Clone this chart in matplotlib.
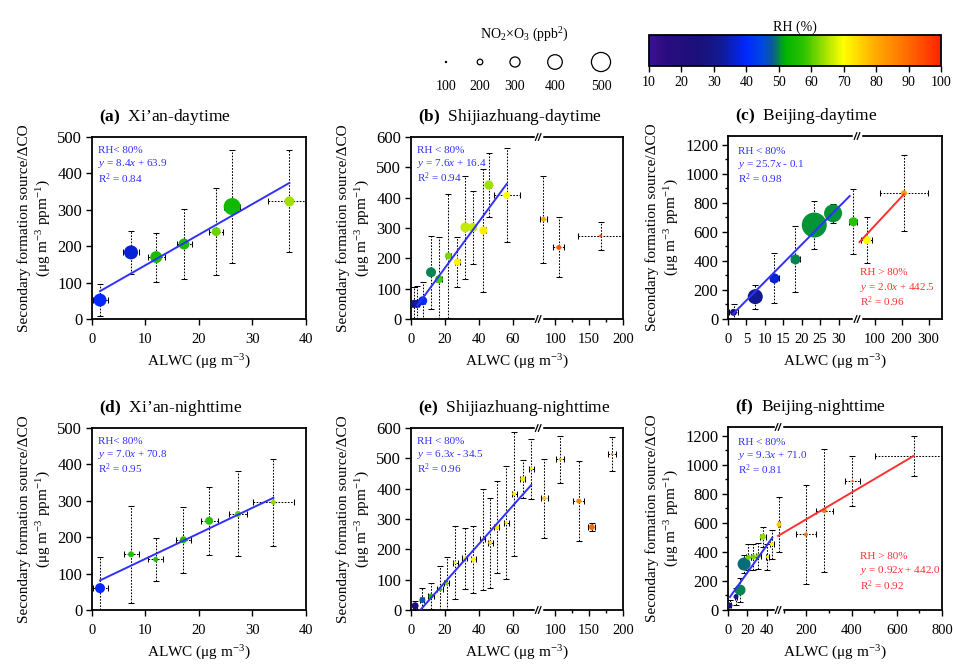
import numpy as np
import matplotlib
matplotlib.use("Agg")
import matplotlib.pyplot as plt
from matplotlib.colors import LinearSegmentedColormap, Normalize
from matplotlib.cm import ScalarMappable
from matplotlib.ticker import FixedLocator

plt.rcParams["font.family"] = ["Liberation Serif", "DejaVu Serif"]
plt.rcParams["mathtext.fontset"] = "custom"
plt.rcParams["mathtext.rm"] = "Liberation Serif"
plt.rcParams["mathtext.it"] = "Liberation Serif:italic"
plt.rcParams["mathtext.bf"] = "Liberation Serif:bold"

# ---------------- data ----------------
# (a) Xi'an daytime
A_X = [1.5, 7.3, 12.0, 17.2, 23.2, 26.2, 36.9]
A_Y = [52, 183, 170, 206, 240, 309, 323]
A_XERR = [1.4, 1.5, 1.6, 1.4, 1.3, 1.5, 4.0]
A_YERR = [43, 60, 67, 95, 119, 155, 140]
A_RH = [40, 37, 55, 55, 61, 54, 64]
A_NOX = [364, 386, 341, 319, 275, 452, 297]

# (b) Shijiazhuang daytime
B_X = [1.8, 3.7, 6.9, 11.8, 16.5, 22.0, 27.4, 32.1, 36.4, 42.7, 45.9, 56.4, 82.8, 105.4, 167.0]
B_Y = [50, 50, 60, 154, 131, 208, 188, 302, 302, 292, 442, 408, 329, 236, 274]
B_XERR = [1.0, 1.0, 1.2, 1.5, 1.5, 1.5, 1.5, 1.5, 1.5, 1.5, 1.5, 7.6, 5.0, 8.0, 33.0]
B_YERR = [55, 60, 62, 120, 140, 205, 83, 170, 120, 204, 105, 155, 144, 99, 46]
B_RH = [25, 33, 40, 50, 59, 62, 71, 66, 66, 72, 64, 70, 80, 92, 95]
B_NOX = [253, 253, 275, 297, 253, 230, 230, 297, 275, 253, 275, 230, 186, 186, 142]

# (c) Beijing daytime
C_X = [1.5, 7.4, 12.6, 18.3, 23.4, 28.5, 34.0, 71.0, 209.0]
C_Y = [46, 154, 280, 411, 648, 729, 671, 545, 867]
C_XERR = [1.2, 1.5, 1.2, 1.2, 1.5, 1.5, 1.2, 20.0, 90.0]
C_YERR = [55, 83, 172, 228, 163, 65, 223, 161, 262]
C_RH = [27, 32, 37, 50, 50.5, 50.5, 57, 70, 82]
C_NOX = [230, 408, 297, 297, 630, 475, 275, 253, 208]

# (d) Xi'an nighttime
D_X = [1.5, 7.3, 11.9, 17.1, 21.9, 27.3, 33.9]
D_Y = [60, 153, 139, 193, 245, 264, 296]
D_XERR = [1.4, 1.4, 1.4, 1.4, 1.6, 1.6, 3.8]
D_YERR = [85, 133, 58, 90, 93, 117, 119]
D_RH = [40, 56, 56, 56, 57, 60, 63]
D_NOX = [297, 208, 186, 230, 253, 208, 186]

# (e) Shijiazhuang nighttime
E_X = [2.4, 6.7, 11.8, 17.1, 21.0, 26.0, 31.8, 36.8, 42.3, 46.7, 50.6, 56.1, 60.8, 65.9, 70.9,
       83.8, 107.4, 134.9, 154.0, 183.8]
E_Y = [14, 33, 46, 68, 88, 156, 170, 167, 233, 222, 273, 288, 383, 432, 466,
       368, 497, 359, 273, 514]
E_XERR = [1.2, 1.2, 1.5, 1.5, 1.5, 1.5, 1.5, 1.5, 1.5, 1.5, 1.5, 1.5, 1.5, 1.5, 1.5,
          5.0, 6.0, 8.0, 5.0, 6.0]
E_YERR = [15, 38, 44, 78, 88, 120, 100, 110, 167, 148, 152, 186, 204, 62, 99,
          130, 78, 131, 14, 57]
E_RH = [27, 47, 55, 58, 62, 70, 70, 71, 72, 74, 73, 71, 72, 72, 71,
        77, 78, 86, 90, 86]
E_NOX = [230, 208, 186, 164, 164, 142, 164, 186, 142, 164, 186, 142, 164, 186, 142,
         164, 142, 186, 208, 120]

# (f) Beijing nighttime
F_X = [2.1, 8.3, 12.5, 16.7, 21.2, 26.4, 31.6, 36.1, 41.0, 45.5, 79.4, 198.0, 279.0, 404.0, 674.0]
F_Y = [32, 92, 138, 317, 363, 367, 372, 505, 367, 454, 590, 521, 686, 890, 1062]
F_XERR = [1.5, 1.5, 3.0, 3.0, 2.5, 2.5, 2.5, 3.0, 1.5, 2.0, 4.0, 43.0, 37.0, 33.0, 170.0]
F_YERR = [40, 60, 80, 60, 90, 90, 90, 70, 90, 100, 187, 344, 427, 175, 139]
F_RH = [27, 30, 50, 49, 62, 62, 63, 63, 72, 70, 76, 88, 88, 92, 95]
F_NOX = [186, 186, 319, 364, 186, 186, 186, 208, 142, 164, 186, 164, 186, 120, 120]

# fits: (slope, intercept, x range)
FIT_A = (8.4, 63.9, [1.5, 36.9])
FIT_B = (7.6, 16.4, [3.7, 56.4])
FIT_C = (25.7, -0.1, [1.4, 33.0])
FIT_C_HI = (2.0, 442.5, [44.0, 209.0])
FIT_D = (7.0, 70.8, [1.5, 33.9])
FIT_E = (6.3, -34.5, [5.5, 70.9])
FIT_F = (9.3, 71.0, [2.0, 46.0])
FIT_F_HI = (0.92, 442.0, [75.0, 674.0])

LEGEND_NOX = [100, 200, 300, 400, 500]
RH_TICKS = [10, 20, 30, 40, 50, 60, 70, 80, 90, 100]

RH_STOPS = [10, 15, 25, 32, 40, 45, 48, 52, 58, 64, 70, 75, 80, 90, 100]
RH_COLORS = ["#3c128f", "#2a0c80", "#1a1078", "#121a92", "#0028ff", "#0048e0",
             "#0a5a98", "#00b400", "#30c400", "#a0e000", "#ffff00", "#ffd400",
             "#ffaa00", "#ff6a00", "#ff2400"]

W, H = 954, 664
BLUE = "#3030ff"
RED = "#ff3030"


def px_box(l, t, r, b):
    return [l / W, 1 - b / H, (r - l) / W, (b - t) / H]


def marker_area(nox):
    d_px = 0.045 * (np.asarray(nox, float) - 75)
    return (d_px * 0.72) ** 2


def broken(left_end, right_start, frac, xmax):
    def fwd(x):
        x = np.asarray(x, dtype=float)
        lo = x / left_end * frac
        hi = frac + (x - right_start) / (xmax - right_start) * (1 - frac)
        return np.where(x <= left_end, lo, np.where(x >= right_start, hi, frac))

    def inv(u):
        u = np.asarray(u, dtype=float)
        return np.where(u <= frac, u / frac * left_end,
                        right_start + (u - frac) / (1 - frac) * (xmax - right_start))
    return fwd, inv


cmap = LinearSegmentedColormap.from_list(
    "rh", [((s - 10) / 90, c) for s, c in zip(RH_STOPS, RH_COLORS)])
norm = Normalize(10, 100)

fig = plt.figure(figsize=(W / 100, H / 100), dpi=100)


def break_marks(ax, frac):
    for yy in (0, 1):
        ax.plot([frac - 0.012, frac + 0.012], [yy, yy], color="white", lw=2.5,
                transform=ax.transAxes, clip_on=False, zorder=6)
        for dx in (-0.007, 0.007):
            ax.plot([frac + dx - 0.006, frac + dx + 0.006], [yy - 0.018, yy + 0.018],
                    color="black", lw=0.9, transform=ax.transAxes,
                    clip_on=False, zorder=7)


panels = [
    dict(box=(92, 137, 306, 319), x=A_X, y=A_Y, xe=A_XERR, ye=A_YERR, rh=A_RH, nox=A_NOX,
         fits=[(FIT_A, BLUE)], ylim=500, yticks=np.arange(0, 501, 100), yminor=None,
         xlim=40, xticks=[0, 10, 20, 30, 40], xminor=None, brk=None,
         title=r"$\mathbf{(a)}$  Xi’an-daytime",
         lo=["RH< 80%", r"$y$ = 8.4$x$ + 63.9", r"R$^2$ = 0.84"], lo_pos=(0.03, [0.925, 0.855, 0.77]),
         hi=None),
    dict(box=(411, 137, 623, 319), x=B_X, y=B_Y, xe=B_XERR, ye=B_YERR, rh=B_RH, nox=B_NOX,
         fits=[(FIT_B, BLUE)], ylim=600, yticks=np.arange(0, 601, 100), yminor=None,
         xlim=200, xticks=[0, 20, 40, 60, 100, 150, 200], xminor=[125, 175], brk=(75, 75, 0.6),
         title=r"$\mathbf{(b)}$  Shijiazhuang-daytime",
         lo=["RH < 80%", r"$y$ = 7.6$x$ + 16.4", r"R$^2$ = 0.94"], lo_pos=(0.03, [0.925, 0.855, 0.775]),
         hi=None),
    dict(box=(728, 136, 942, 319), x=C_X, y=C_Y, xe=C_XERR, ye=C_YERR, rh=C_RH, nox=C_NOX,
         fits=[(FIT_C, BLUE), (FIT_C_HI, RED)], ylim=1262, yticks=np.arange(0, 1201, 200),
         yminor=np.arange(100, 1201, 200),
         xlim=350, xticks=[0, 5, 10, 15, 20, 25, 30, 100, 200, 300], xminor=None, brk=(35, 35, 0.603),
         title=r"$\mathbf{(c)}$  Beijing-daytime",
         lo=["RH < 80%", r"$y$ = 25.7$x$ - 0.1", r"R$^2$ = 0.98"], lo_pos=(0.045, [0.915, 0.845, 0.765]),
         hi=["RH > 80%", r"$y$ = 2.0$x$ + 442.5", r"R$^2$ = 0.96"], hi_pos=(0.615, [0.255, 0.17, 0.095])),
    dict(box=(92, 428, 306, 610), x=D_X, y=D_Y, xe=D_XERR, ye=D_YERR, rh=D_RH, nox=D_NOX,
         fits=[(FIT_D, BLUE)], ylim=500, yticks=np.arange(0, 501, 100), yminor=None,
         xlim=40, xticks=[0, 10, 20, 30, 40], xminor=None, brk=None,
         title=r"$\mathbf{(d)}$  Xi’an-nighttime",
         lo=["RH< 80%", r"$y$ = 7.0$x$ + 70.8", r"R$^2$ = 0.95"], lo_pos=(0.03, [0.925, 0.855, 0.775]),
         hi=None),
    dict(box=(411, 428, 623, 610), x=E_X, y=E_Y, xe=E_XERR, ye=E_YERR, rh=E_RH, nox=E_NOX,
         fits=[(FIT_E, BLUE)], ylim=600, yticks=np.arange(0, 601, 100), yminor=None,
         xlim=200, xticks=[0, 20, 40, 60, 100, 150, 200], xminor=[125, 175], brk=(75, 75, 0.6),
         title=r"$\mathbf{(e)}$  Shijiazhuang-nighttime",
         lo=["RH < 80%", r"$y$ = 6.3$x$ - 34.5", r"R$^2$ = 0.96"], lo_pos=(0.03, [0.925, 0.855, 0.775]),
         hi=None),
    dict(box=(728, 427, 942, 610), x=F_X, y=F_Y, xe=F_XERR, ye=F_YERR, rh=F_RH, nox=F_NOX,
         fits=[(FIT_F, BLUE), (FIT_F_HI, RED)], ylim=1262, yticks=np.arange(0, 1201, 200),
         yminor=np.arange(100, 1201, 200),
         xlim=800, xticks=[0, 20, 40, 200, 400, 600, 800], xminor=[100, 300, 500, 700],
         brk=(52, 75, 0.234),
         title=r"$\mathbf{(f)}$  Beijing-nighttime",
         lo=["RH < 80%", r"$y$ = 9.3$x$ + 71.0", r"R$^2$ = 0.81"], lo_pos=(0.045, [0.915, 0.845, 0.765]),
         hi=["RH > 80%", r"$y$ = 0.92$x$ + 442.0", r"R$^2$ = 0.92"], hi_pos=(0.615, [0.29, 0.215, 0.135])),
]

for p in panels:
    ax = fig.add_axes(px_box(*p["box"]))
    if p["brk"]:
        fwd, inv = broken(*p["brk"], p["xlim"])
        ax.set_xscale("function", functions=(fwd, inv))
    ax.set_xlim(0, p["xlim"])
    ax.set_ylim(0, p["ylim"])

    eb = ax.errorbar(p["x"], p["y"], xerr=p["xe"], yerr=p["ye"], fmt="none",
                     ecolor="black", elinewidth=0.75, capsize=2.5, capthick=0.75, zorder=2)
    for lc in eb[2]:
        lc.set_linestyle((0, (1.6, 1.4)))
    ax.scatter(p["x"], p["y"], s=marker_area(p["nox"]), c=p["rh"], cmap=cmap, norm=norm,
               edgecolors="none", zorder=3)
    for (k, b0, xr), col in p["fits"]:
        xr = np.array(xr)
        ax.plot(xr, k * xr + b0, color=col, lw=1.4, zorder=4)

    ax.xaxis.set_major_locator(FixedLocator(p["xticks"]))
    ax.set_xticklabels([str(t) for t in p["xticks"]])
    if p["xminor"]:
        ax.xaxis.set_minor_locator(FixedLocator(p["xminor"]))
    else:
        ax.xaxis.set_minor_locator(FixedLocator([]))
    ax.yaxis.set_major_locator(FixedLocator(p["yticks"]))
    if p["yminor"] is not None:
        ax.yaxis.set_minor_locator(FixedLocator(p["yminor"]))
    else:
        ax.yaxis.set_minor_locator(FixedLocator([]))
    ax.tick_params(which="major", direction="out", length=4, width=1.0)
    ax.tick_params(axis="x", which="major", labelsize=10.5, pad=6)
    ax.tick_params(axis="y", which="major", labelsize=12, pad=3)
    ax.tick_params(which="minor", direction="out", length=2.5, width=1.0)
    for sp in ax.spines.values():
        sp.set_linewidth(1.3)
    if p["brk"]:
        break_marks(ax, p["brk"][2])

    ax.set_xlabel("ALWC (μg m$^{-3}$)", fontsize=11, labelpad=5)
    ax.set_ylabel("Secondary formation source/ΔCO\n(μg m$^{-3}$ ppm$^{-1}$)", fontsize=11,
                  labelpad=3, linespacing=1.3)
    ax.text(0.033, 1.11, p["title"], transform=ax.transAxes, ha="left", va="center",
            fontsize=12.5)

    xl, ys = p["lo_pos"]
    for s, yy in zip(p["lo"], ys):
        ax.text(xl, yy, s, transform=ax.transAxes, color=BLUE, fontsize=8, va="center")
    if p["hi"]:
        xh, ys = p["hi_pos"]
        for s, yy in zip(p["hi"], ys):
            ax.text(xh, yy, s, transform=ax.transAxes, color=RED, fontsize=8, va="center")

# ---- size legend (NO2 x O3) ----
lax = fig.add_axes([0, 0, 1, 1], zorder=-1)
lax.set_xlim(0, W)
lax.set_ylim(H, 0)
lax.axis("off")
leg_x = [446, 480, 515, 555, 601]
lax.scatter(leg_x, [62] * len(leg_x), s=marker_area(LEGEND_NOX), facecolors="white",
            edgecolors="black", linewidths=0.9)
for xx, v in zip(leg_x, LEGEND_NOX):
    lax.text(xx, 87, str(v), ha="center", va="center", fontsize=10)
lax.text(524, 35, r"NO$_2$×O$_3$ (ppb$^2$)", ha="center", va="center", fontsize=10)

# ---- RH colorbar ----
cax = fig.add_axes(px_box(649, 35, 941, 66))
cb = fig.colorbar(ScalarMappable(norm=norm, cmap=cmap), cax=cax, orientation="horizontal")
cb.set_ticks(RH_TICKS)
cb.ax.tick_params(direction="out", length=4, width=1.0, labelsize=10)
cb.outline.set_linewidth(1.3)
cax.set_title("RH (%)", fontsize=10, pad=3)

fig.savefig("out.png", dpi=100)
